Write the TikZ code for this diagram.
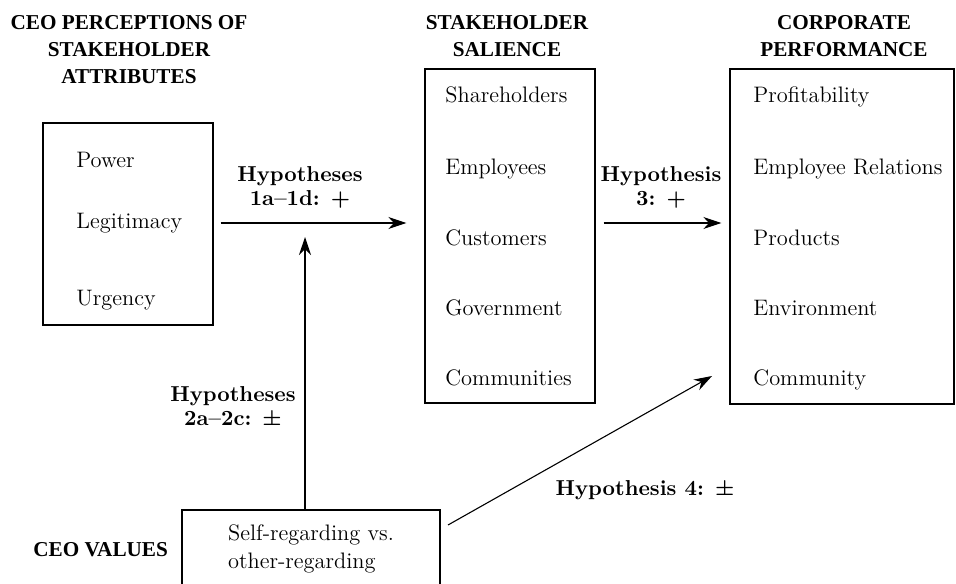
\documentclass[tikz,border=0pt]{standalone}
\usepackage{fontspec}
\newfontfamily\headfont{Liberation Serif}
\usetikzlibrary{arrows.meta, positioning, calc}

\begin{document}
\begin{tikzpicture}[
  x=0.5pt, y=-0.5pt,
  box/.style={rectangle, draw, line width=0.7pt, inner sep=0pt},
  item/.style={anchor=base west, inner sep=0pt,
               font=\fontsize{11.2}{13.5}\selectfont},
  head/.style={anchor=north, inner sep=0pt, align=center,
               font=\headfont\bfseries\fontsize{10.6}{13.4}\selectfont},
  hyp/.style={align=center, inner sep=0pt,
              font=\bfseries\fontsize{10.8}{12}\selectfont},
  arrow/.style={-{Stealth[length=9pt, width=6pt]}, line width=0.55pt},
]
  \useasboundingbox (0,0) rectangle (956,583);

  % column headings
  \node[head] (attrhead) at (129,15) {CEO PERCEPTIONS OF\\STAKEHOLDER\\ATTRIBUTES};
  \node[head] (salhead)  at (507,15) {STAKEHOLDER\\SALIENCE};
  \node[head] (perfhead) at (844,15) {CORPORATE\\PERFORMANCE};
  \node[head, anchor=west] (valhead) at (33,550) {CEO VALUES};

  % boxes
  \node[box, minimum width=85pt, minimum height=101pt]  (attr) at (128,224) {};
  \node[box, minimum width=85pt, minimum height=167pt]  (sal)  at (510,236) {};
  \node[box, minimum width=112pt, minimum height=167.5pt] (perf) at (842,236.5) {};
  \node[box, minimum width=129pt, minimum height=39pt, align=left,
        font=\fontsize{11.2}{13.6}\selectfont] (val) at (311,549)
        {Self-regarding vs.\\other-regarding};

  % attributes
  \node[item] (power) at (76,167) {Power};
  \node[item] (legit) at (76,228) {Legitimacy};
  \node[item] (urg)   at (76,305) {Urgency};

  % stakeholders
  \node[item] (share) at (445,103) {Shareholders};
  \node[item] (empl)  at (445,174) {Employees};
  \node[item] (cust)  at (445,245) {Customers};
  \node[item] (gov)   at (445,315) {Government};
  \node[item] (comms) at (445,385) {Communities};

  % performance
  \node[item] (profit) at (753,103) {Profitability};
  \node[item] (emprel) at (753,174) {Employee Relations};
  \node[item] (prod)   at (753,245) {Products};
  \node[item] (env)    at (753,315) {Environment};
  \node[item] (commy)  at (753,385) {Community};

  % hypotheses
  \node[hyp] (h1) at (300,187) {Hypotheses\\1a--1d: +};
  \node[hyp] (h3) at (661,187) {Hypothesis\\3: +};
  \node[hyp] (h2) at (233,406) {Hypotheses\\2a--2c: ±};
  \node[hyp] (h4) at (645,490) {Hypothesis 4: ±};

  \coordinate (hub) at (305,223);
  \coordinate (h4a) at (448,525);
  \coordinate (h4b) at (712,376);

  \draw[arrow, shorten <=3.5pt, shorten >=9pt] (attr.east |- hub) -- (hub -| sal.west);
  \draw[arrow, shorten <=4pt, shorten >=4pt] (hub -| sal.east) -- (hub -| perf.west);
  \draw[arrow, shorten >=7pt] (val.north -| hub) -- (hub);
  \draw[arrow] (h4a) -- (h4b);
\end{tikzpicture}
\end{document}
